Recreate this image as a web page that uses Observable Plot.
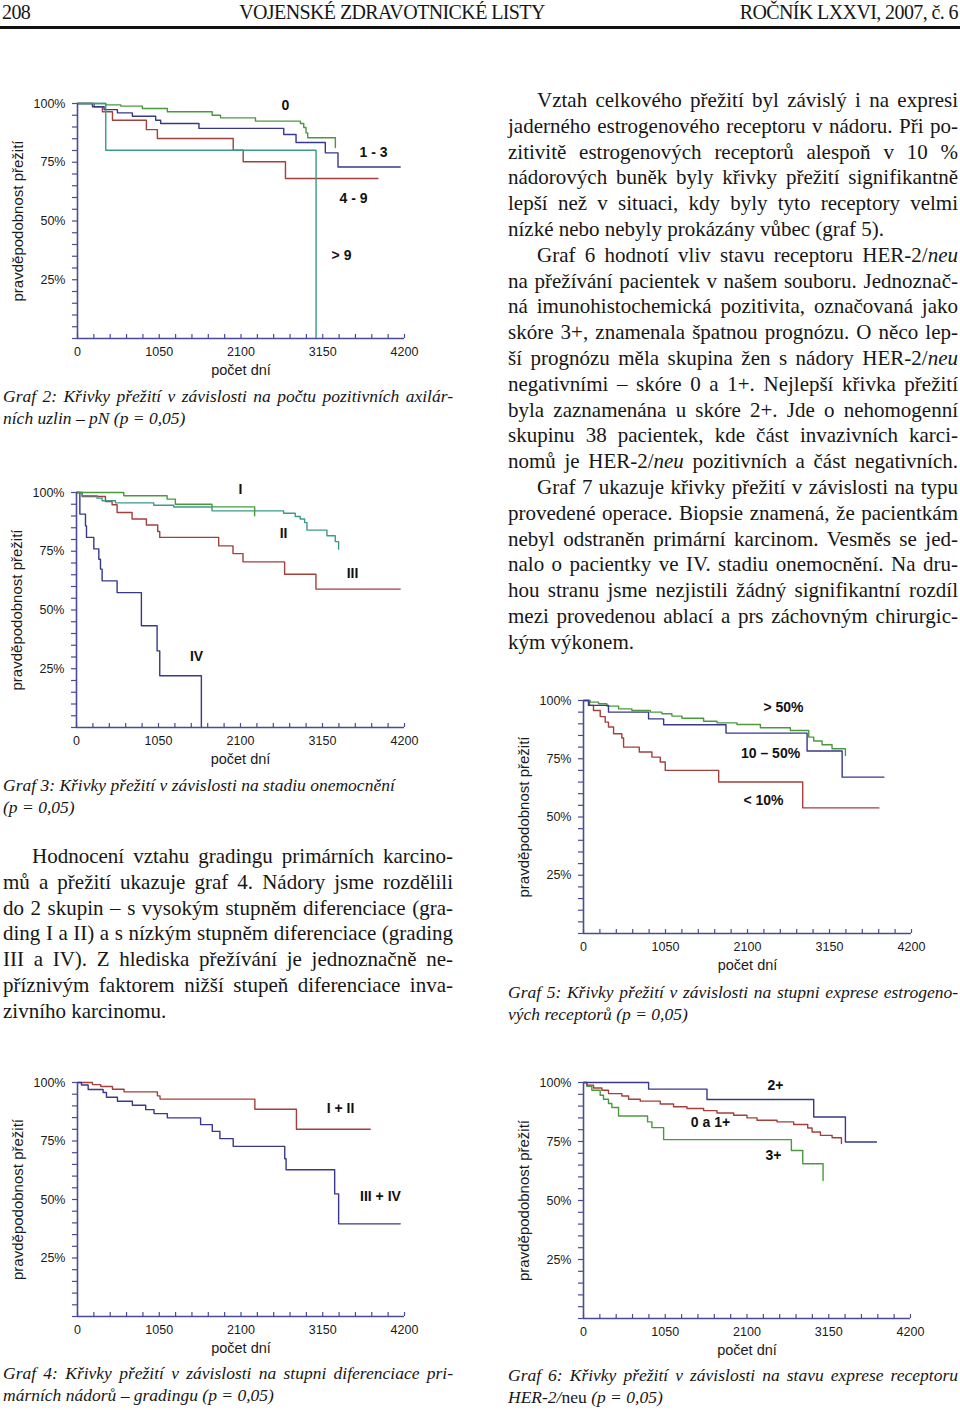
<!DOCTYPE html>
<html><head><meta charset="utf-8">
<script src="https://cdn.jsdelivr.net/npm/d3@7"></script>
<script src="https://cdn.jsdelivr.net/npm/@observablehq/plot@0.6"></script>
<style>
body{margin:0;background:#fff;}
#page{position:relative;width:960px;height:1410px;overflow:hidden;font-family:"Liberation Serif","Times New Roman",serif;color:#161616;background:#fff;}
.abs{position:absolute;}
.txt{font-size:21px;line-height:25.8px;}
.cap{font-size:17.5px;line-height:21.5px;font-style:italic;}
.full{text-align:justify;text-align-last:justify;}
.last{text-align:left;}
.ind{padding-left:29px;}
.hdr{font-size:20px;top:0px;letter-spacing:-0.6px;line-height:24px;}
</style>
</head><body><div id="page"></div>
<script>
// ---------- data ----------
const xMajor = [0, 1050, 2100, 3150, 4200];
const xMinor = d3.range(0, 4201, 210);
const yMajor = [25, 50, 75, 100];
const yMinor = d3.range(0, 101, 5);

// Graf 2 – počet pozitivních uzlin
const g2_n0  = [[0,100],[363,99.4],[555,98.9],[833,97.9],[1154,96.5],[1730,95.0],[1837,93.9],[2286,92.5],[2863,91.5],[2906,89.8],[2935,87.5],[2957,85.4],[3312,81.3]];
const g2_n13 = [[0,100],[192,98.6],[342,97.4],[513,96.0],[705,94.6],[1004,92.9],[1068,91.5],[1560,89.4],[2649,86.8],[2807,83.4],[3183,79.0],[3346,73.0],[4145,73.0]];
const g2_n49 = [[0,100],[214,98.6],[320,96.5],[449,92.9],[885,88.9],[1026,85.1],[2000,80.1],[2128,75.2],[2671,68.1],[3859,68.1]];
const g2_n9  = [[0,100],[363,80.1],[3064,0]];
const g2_labels = [["0",2671,99.1],["1 - 3",3802,79.1],["4 - 9",3545,59.6],["> 9",3391,35.3]];

// Graf 3 – stadium
const g3_I   = [[0,100],[605,98.6],[1160,97.2],[1266,95.0],[1735,93.9],[2281,90.1]];
const g3_II  = [[0,100],[72,98.6],[264,97.6],[328,96.5],[499,95.6],[989,94.6],[1245,93.8],[1735,92.2],[2652,91.2],[2801,89.8],[2865,88.7],[2921,87.2],[2951,84.0],[3207,81.6],[3313,79.1],[3356,75.9]];
const g3_III = [[0,100],[72,98.3],[371,96.2],[456,94.8],[520,91.5],[712,88.7],[895,86.2],[1040,83.4],[1066,80.9],[1821,77.3],[2004,74.0],[2132,70.5],[2665,65.2],[3066,58.9],[4145,58.9]];
const g3_IV  = [[0,100],[43,90.8],[115,85.8],[128,80.9],[222,76.0],[286,71.6],[307,67.4],[328,62.4],[520,57.4],[831,43.3],[1032,32.6],[1066,22.0],[1599,0]];
const g3_labels = [["I",2100,101.3],["II",2651,82.6],["III",3534,65.5],["IV",1537,30.2]];

// Graf 5 – estrogenové receptory
const g5_hi  = [[0,100],[85,99.3],[192,98.6],[299,97.6],[449,96.4],[620,95.7],[855,95.0],[1004,94.3],[1132,93.3],[1261,92.4],[1538,91.1],[1709,90.4],[1966,89.7],[2265,88.3],[2649,87.1],[2884,84.3],[2948,82.6],[3055,81.0],[3183,79.3],[3354,76.4]];
const g5_mid = [[0,100],[64,97.9],[320,95.0],[833,92.1],[1026,89.6],[1825,86.0],[2863,78.3],[3312,67.1],[3846,67.1]];
const g5_lo  = [[0,100],[77,97.9],[128,95.7],[214,93.1],[278,90.7],[320,88.6],[385,85.7],[491,83.9],[513,80.0],[714,77.9],[876,75.7],[983,73.6],[1047,70.0],[1731,65.0],[2807,53.9],[3782,53.9]];
const g5_labels = [["> 50%",2561,97.0],["10 – 50%",2395,77.3],["< 10%",2305,57.1]];

// Graf 4 – grading
const g4_12 = [[0,100],[192,99.1],[299,98.3],[449,97.1],[598,96.0],[1026,94.3],[1060,92.9],[2278,88.6],[2812,80.0],[3760,80.0]];
const g4_34 = [[0,100],[51,98.9],[137,97.0],[329,95.7],[372,93.7],[513,92.0],[705,90.3],[876,88.4],[983,86.7],[1154,84.9],[1581,82.0],[1731,79.1],[1829,76.0],[2000,72.7],[2662,67.4],[2679,62.7],[3303,52.4],[3354,39.6],[4145,39.6]];
const g4_labels = [["I + II",3378,88.9],["III + IV",3891,51.3]];

// Graf 6 – HER-2/neu
const g6_2  = [[0,100],[836,97.2],[1586,92.8],[2957,85.4],[3364,74.8],[3763,74.8]];
const g6_01 = [[0,100],[43,98.9],[129,97.7],[236,96.7],[321,95.3],[493,94.3],[579,92.9],[729,92.1],[986,90.9],[1157,89.7],[1329,89.0],[1543,88.1],[1714,87.1],[1929,86.1],[2100,85.0],[2229,84.0],[2486,83.3],[2700,82.2],[2880,80.7],[2936,79.0],[3043,77.6],[3193,76.6],[3313,74.1]];
const g6_3  = [[0,100],[43,98.4],[107,96.7],[214,94.6],[257,92.9],[321,91.1],[364,89.4],[450,85.8],[823,83.3],[879,80.9],[1029,75.8],[2670,71.2],[2816,65.6],[3077,58.5]];
const g6_labels = [["2+",2466,98.7],["0 a 1+",1631,83.1],["3+",2440,69.1]];

// ---------- styles ----------
const GREEN = "#4a9a3c", NAVY = "#38388c", RED = "#a2403c", TEAL = "#3a9a8c", AXIS = "#4a4a98";
const page = document.getElementById("page");

function chart(cfg) {
  const mL = cfg.plotLeft - cfg.left, mT = cfg.plotTop - cfg.top;
  const mR = 30, mB = 52;
  const marks = [
    Plot.axisY(yMinor, {tickSize: 5, stroke: AXIS, strokeWidth: 1.2, tickFormat: () => "", label: null}),
    Plot.axisY(yMajor, {tickSize: 0, tickPadding: 12, tickFormat: d => d + "%", fill: "#1a1a1a", label: null, fontSize: 12.5}),
    Plot.axisX(xMajor, {tickSize: 0, tickPadding: 9, tickFormat: d => String(d), fill: "#1a1a1a", label: null, fontSize: 12.5}),
    Plot.ruleX(xMinor, {x: d => d, y1: 0, y2: 1.7, stroke: AXIS, strokeWidth: 1.2}),
    Plot.text(["pravděpodobnost přežití"], {frameAnchor: "left", textAnchor: "middle", rotate: -90, dx: -59, fontSize: 15, fill: "#1a1a1a"}),
    Plot.text(["počet dní"], {frameAnchor: "bottom", dy: 36, fontSize: 14.5, fill: "#1a1a1a"}),
    ...cfg.series.map(([data, color]) => Plot.line(data, {x: d => d[0], y: d => d[1], curve: "step-after", stroke: color, strokeWidth: 1.4})),
    Plot.ruleX([0], {stroke: AXIS, strokeWidth: 1.6}),
    Plot.ruleY([0], {stroke: AXIS, strokeWidth: 1.6}),
    Plot.text(cfg.labels, {x: d => d[1], y: d => d[2], text: d => d[0], fontWeight: "bold", fontSize: 14, fill: "#111"})
  ];
  const svg = Plot.plot({
    width: mL + cfg.plotW + mR, height: mT + cfg.plotH + mB,
    marginLeft: mL, marginTop: mT, marginRight: mR, marginBottom: mB,
    x: {domain: [0, 4200]}, y: {domain: [0, 100]},
    style: {fontFamily: "'Liberation Sans', Arial, sans-serif", background: "transparent", overflow: "visible", color: "#1a1a1a"},
    marks
  });
  const div = document.createElement("div");
  div.className = "abs";
  div.style.left = cfg.left + "px"; div.style.top = cfg.top + "px";
  div.appendChild(svg);
  page.appendChild(div);
}

chart({left: 0, top: 90, plotLeft: 77, plotTop: 103, plotW: 327, plotH: 235,
  series: [[g2_n49, RED], [g2_n13, NAVY], [g2_n0, GREEN], [g2_n9, TEAL]], labels: g2_labels});
chart({left: 0, top: 479, plotLeft: 76, plotTop: 492, plotW: 328, plotH: 235,
  series: [[g3_IV, NAVY], [g3_III, RED], [g3_II, TEAL], [g3_I, GREEN]], labels: g3_labels});
chart({left: 500, top: 687, plotLeft: 583, plotTop: 700, plotW: 328, plotH: 233,
  series: [[g5_lo, RED], [g5_hi, GREEN], [g5_mid, NAVY]], labels: g5_labels});
chart({left: 0, top: 1069, plotLeft: 77, plotTop: 1082, plotW: 327, plotH: 234,
  series: [[g4_12, RED], [g4_34, NAVY]], labels: g4_labels});
chart({left: 500, top: 1069, plotLeft: 583, plotTop: 1082, plotW: 327, plotH: 236,
  series: [[g6_3, GREEN], [g6_01, RED], [g6_2, NAVY]], labels: g6_labels});

// ---------- text ----------
function block(cls, left, top, width, lines) {
  const d = document.createElement("div");
  d.className = "abs " + cls;
  d.style.left = left + "px"; d.style.top = top + "px"; d.style.width = width + "px";
  d.innerHTML = lines.map(([t, k]) => `<div class="${k}">${t}</div>`).join("");
  page.appendChild(d);
}

// header
const h1 = document.createElement("div"); h1.className = "abs hdr"; h1.style.left = "2px"; h1.textContent = "208"; page.appendChild(h1);
const h2 = document.createElement("div"); h2.className = "abs hdr"; h2.style.left = "0px"; h2.style.width = "784px"; h2.style.textAlign = "center"; h2.textContent = "VOJENSKÉ ZDRAVOTNICKÉ LISTY"; page.appendChild(h2);
const h3 = document.createElement("div"); h3.className = "abs hdr"; h3.style.right = "2px"; h3.textContent = "ROČNÍK LXXVI, 2007, č. 6"; page.appendChild(h3);
const hr = document.createElement("div"); hr.className = "abs"; hr.style.cssText += "left:0;top:26px;width:960px;height:3px;background:#111;"; page.appendChild(hr);

block("txt", 508, 88, 450, [
  ["Vztah celkového přežití byl závislý i na expresi", "full ind"],
  ["jaderného estrogenového receptoru v nádoru. Při po-", "full"],
  ["zitivitě estrogenových receptorů alespoň v 10 %", "full"],
  ["nádorových buněk byly křivky přežití signifikantně", "full"],
  ["lepší než v situaci, kdy byly tyto receptory velmi", "full"],
  ["nízké nebo nebyly prokázány vůbec (graf 5).", "last"],
  ["Graf 6 hodnotí vliv stavu receptoru HER-2/<i>neu</i>", "full ind"],
  ["na přežívání pacientek v našem souboru. Jednoznač-", "full"],
  ["ná imunohistochemická pozitivita, označovaná jako", "full"],
  ["skóre 3+, znamenala špatnou prognózu. O něco lep-", "full"],
  ["ší prognózu měla skupina žen s nádory HER-2/<i>neu</i>", "full"],
  ["negativními – skóre 0 a 1+. Nejlepší křivka přežití", "full"],
  ["byla zaznamenána u skóre 2+. Jde o nehomogenní", "full"],
  ["skupinu 38 pacientek, kde část invazivních karci-", "full"],
  ["nomů je HER-2/<i>neu</i> pozitivních a část negativních.", "full"],
  ["Graf 7 ukazuje křivky přežití v závislosti na typu", "full ind"],
  ["provedené operace. Biopsie znamená, že pacientkám", "full"],
  ["nebyl odstraněn primární karcinom. Vesměs se jed-", "full"],
  ["nalo o pacientky ve IV. stadiu onemocnění. Na dru-", "full"],
  ["hou stranu jsme nezjistili žádný signifikantní rozdíl", "full"],
  ["mezi provedenou ablací a prs záchovným chirurgic-", "full"],
  ["kým výkonem.", "last"]
]);

block("txt", 3, 844, 450, [
  ["Hodnocení vztahu gradingu primárních karcino-", "full ind"],
  ["mů a přežití ukazuje graf 4. Nádory jsme rozdělili", "full"],
  ["do 2 skupin – s vysokým stupněm diferenciace (gra-", "full"],
  ["ding I a II) a s nízkým stupněm diferenciace (grading", "full"],
  ["III a IV). Z hlediska přežívání je jednoznačně ne-", "full"],
  ["příznivým faktorem nižší stupeň diferenciace inva-", "full"],
  ["zivního karcinomu.", "last"]
]);

block("cap", 3, 386, 450, [
  ["Graf 2: Křivky přežití v závislosti na počtu pozitivních axilár-", "full"],
  ["ních uzlin – pN (p = 0,05)", "last"]
]);
block("cap", 3, 775, 450, [
  ["Graf 3: Křivky přežití v závislosti na stadiu onemocnění", "last"],
  ["(p = 0,05)", "last"]
]);
block("cap", 508, 982, 450, [
  ["Graf 5: Křivky přežití v závislosti na stupni exprese estrogeno-", "full"],
  ["vých receptorů (p = 0,05)", "last"]
]);
block("cap", 3, 1363, 450, [
  ["Graf 4: Křivky přežití v závislosti na stupni diferenciace pri-", "full"],
  ["márních nádorů – gradingu (p = 0,05)", "last"]
]);
block("cap", 508, 1365, 450, [
  ["Graf 6: Křivky přežití v závislosti na stavu exprese receptoru", "full"],
  ["HER-2/<span style='font-style:normal'>neu</span> (p = 0,05)", "last"]
]);
</script>
</body></html>
